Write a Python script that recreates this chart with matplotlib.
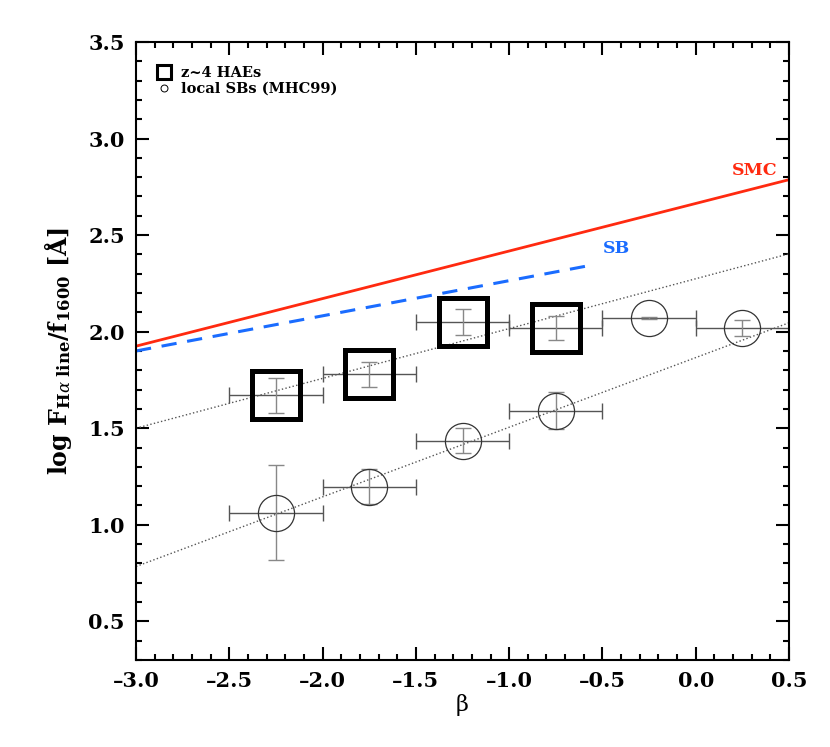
import matplotlib
matplotlib.use('Agg')
import matplotlib.pyplot as plt
from matplotlib.lines import Line2D
from matplotlib.ticker import MultipleLocator, FuncFormatter

plt.rcParams['font.family'] = ['DejaVu Serif']
plt.rcParams['mathtext.fontset'] = 'dejavuserif'

# z~4 HAEs (squares)
hae_beta = [-2.25, -1.75, -1.25, -0.75]
hae_beta_err = [0.25, 0.25, 0.25, 0.25]
hae_ratio = [1.67, 1.78, 2.05, 2.02]
hae_ratio_err = [0.09, 0.065, 0.065, 0.063]

# local starbursts MHC99 (circles)
sb_beta = [-2.25, -1.75, -1.25, -0.75, -0.25, 0.25]
sb_beta_err = [0.25, 0.25, 0.25, 0.25, 0.25, 0.25]
sb_ratio = [1.063, 1.198, 1.436, 1.59, 2.072, 2.02]
sb_ratio_err = [0.245, 0.09, 0.065, 0.095, 0.004, 0.04]

# reference relations
smc_x = [-3.0, 0.5]
smc_y = [1.925, 2.787]
sbcurve_x = [-3.0, -0.55]
sbcurve_y = [1.90, 2.346]
fit_hae_x = [-3.0, 0.5]
fit_hae_y = [1.50, 2.403]
fit_sb_x = [-3.0, 0.5]
fit_sb_y = [0.784, 2.046]


def fmt_tick(v, pos):
    s = '%.1f' % v
    return s.replace('-', '\u2013')


fig = plt.figure(figsize=(8.3, 7.47), dpi=100)
ax = fig.add_axes([0.1639, 0.1165, 0.7867, 0.8273])

ax.plot(fit_hae_x, fit_hae_y, ls=':', color='#555555', lw=1.0)
ax.plot(fit_sb_x, fit_sb_y, ls=':', color='#555555', lw=1.0)
ax.plot(smc_x, smc_y, '-', color='#ff2a10', lw=2.0)
ax.plot(sbcurve_x, sbcurve_y, '--', color='#1a6cff', lw=2.2, dashes=(5, 3.5))

# error bars: horizontal darker, vertical lighter
ax.errorbar(hae_beta, hae_ratio, xerr=hae_beta_err, fmt='none', ecolor='#555555',
            elinewidth=1.0, capsize=5.5)
ax.errorbar(hae_beta, hae_ratio, yerr=hae_ratio_err, fmt='none', ecolor='#888888',
            elinewidth=1.0, capsize=5.5)
ax.errorbar(sb_beta, sb_ratio, xerr=sb_beta_err, fmt='none', ecolor='#555555',
            elinewidth=1.0, capsize=5.5)
ax.errorbar(sb_beta, sb_ratio, yerr=sb_ratio_err, fmt='none', ecolor='#888888',
            elinewidth=1.0, capsize=5.5)

ax.plot(hae_beta, hae_ratio, 's', ms=35, mfc='none', mec='black', mew=3.6)
ax.plot(sb_beta, sb_ratio, 'o', ms=26, mfc='none', mec='#333333', mew=0.9)

ax.text(0.44, 2.835, 'SMC', color='#ff2a10', fontsize=12.5, fontweight='bold',
        ha='right', va='center')
ax.text(-0.5, 2.43, 'SB', color='#1a6cff', fontsize=12.5, fontweight='bold',
        ha='left', va='center')

ax.set_xlim(-3.0, 0.5)
ax.set_ylim(0.3, 3.5)
ax.xaxis.set_major_locator(MultipleLocator(0.5))
ax.xaxis.set_minor_locator(MultipleLocator(0.1))
ax.yaxis.set_major_locator(MultipleLocator(0.5))
ax.yaxis.set_minor_locator(MultipleLocator(0.1))
ax.xaxis.set_major_formatter(FuncFormatter(fmt_tick))
ax.yaxis.set_major_formatter(FuncFormatter(fmt_tick))
ax.tick_params(which='both', direction='in', top=True, right=True, width=1.5)
ax.tick_params(which='major', length=9.5, labelsize=15, pad=8)
ax.tick_params(which='minor', length=4.5)
for lab in ax.get_xticklabels() + ax.get_yticklabels():
    lab.set_fontweight('bold')
for sp in ax.spines.values():
    sp.set_linewidth(1.5)

ax.set_xlabel('\u03b2', fontsize=16, labelpad=2)
ax.set_ylabel(r'log F$_{\mathbf{H}\alpha\ \mathbf{line}}$/f$_{\mathbf{1600}}$ [Å]',
              fontsize=17, fontweight='bold', labelpad=10)

handles = [Line2D([], [], ls='none', marker='s', ms=10, mfc='none', mec='black', mew=2.2),
           Line2D([], [], ls='none', marker='o', ms=5, mfc='none', mec='black', mew=0.7)]
leg = ax.legend(handles, ['z~4 HAEs', 'local SBs (MHC99)'], loc='upper left',
                bbox_to_anchor=(0.02, 0.97),
                frameon=False, prop={'weight': 'bold', 'size': 10.5},
                handletextpad=0.6, labelspacing=0.1, borderaxespad=0.0,
                handlelength=1.2)

fig.savefig('out.png', dpi=100)
